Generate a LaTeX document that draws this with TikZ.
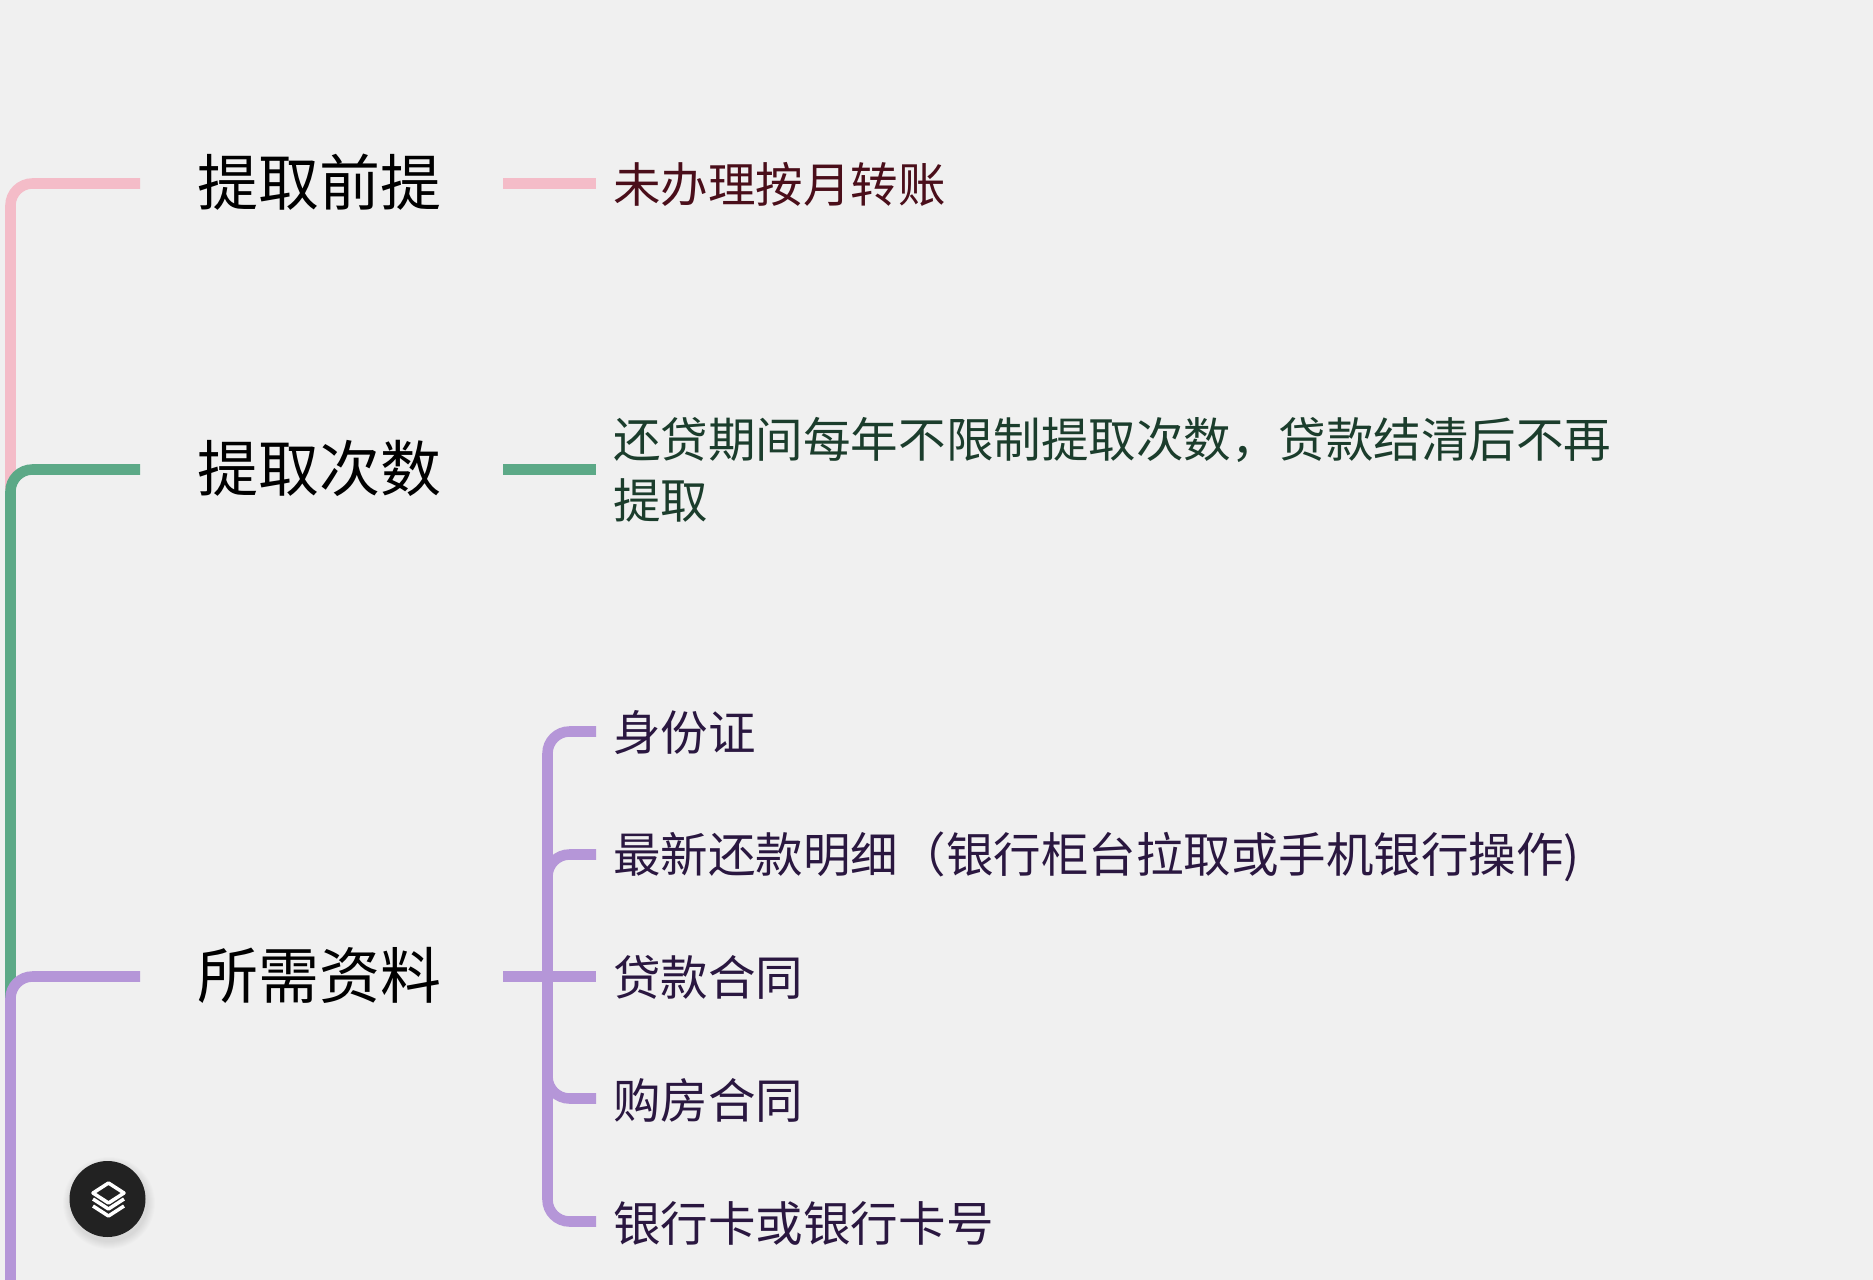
\documentclass[tikz,border=0pt]{standalone}
\usepackage{fontspec}
\setmainfont{Noto Sans CJK SC}
\definecolor{pagebg}{HTML}{F0F0F0}
\definecolor{branchpink}{HTML}{F4BCC8}
\definecolor{branchgreen}{HTML}{5CA987}
\definecolor{branchpurple}{HTML}{B596D8}
\definecolor{textpink}{HTML}{4A0E1A}
\definecolor{textgreen}{HTML}{1B3D2C}
\definecolor{textpurple}{HTML}{2A1740}
\definecolor{buttonblack}{HTML}{222222}
\tikzset{
  topic/.style={anchor=center,inner sep=0pt,text=black,font=\fontsize{34.7}{40}\selectfont},
  leaf/.style={anchor=west,inner sep=0pt,align=left,font=\fontsize{27.05}{34.6}\selectfont},
  branch/.style={line width=6pt,rounded corners=12.5pt},
  layer/.style={white,line width=2pt,line join=round},
}
\begin{document}
\begin{tikzpicture}[x=0.02cm,y=-0.02cm]
\useasboundingbox (0,0) rectangle (1873,1280);
\fill[pagebg] (0,0) rectangle (1873,1280);
\coordinate (pinkin) at (140,183.5);
\coordinate (greenin) at (140,469.5);
\coordinate (purplein) at (140,976.5);
\coordinate (pinkout) at (503,183.5);
\coordinate (greenout) at (503,469.5);
\coordinate (purpleout) at (503,976.5);
\coordinate (pinkleft) at (596,183.5);
\coordinate (greenleft) at (596,469.5);
\coordinate (idleft) at (596,731.5);
\coordinate (repayleft) at (596,854.5);
\coordinate (loanleft) at (596,976.5);
\coordinate (houseleft) at (596,1098.5);
\coordinate (cardleft) at (596,1221.5);
\node[topic] (premise) at (319.5,182) {提取前提};
\node[topic] (times) at (319.5,468) {提取次数};
\node[topic] (papers) at (319.5,975.5) {所需资料};
\node[leaf,text=textpink] (transfer) at (613,184) {未办理按月转账};
\node[leaf,text=textgreen] (limit) at (613,470) {还贷期间每年不限制提取次数，贷款结清后不再\\提取};
\node[leaf,text=textpurple] (idcard) at (613,732.5) {身份证};
\node[leaf,text=textpurple] (repay) at (613,857) {最新还款明细（银行柜台拉取或手机银行操作)};
\node[leaf,text=textpurple] (loan) at (613,977) {贷款合同};
\node[leaf,text=textpurple] (house) at (613,1100) {购房合同};
\node[leaf,text=textpurple] (card) at (613,1223) {银行卡或银行卡号};
% trunk
\draw[branch,branchpink] (pinkin) -- (10.5,183.5) -- (10.5,490);
\draw[branch,branchgreen] (greenin) -- (10.5,469.5) -- (10.5,1000);
\draw[branch,branchpurple] (purplein) -- (10.5,976.5) -- (10.5,1280);
\draw[branch,branchpink] (pinkout) -- (pinkleft);
\draw[branch,branchgreen] (greenout) -- (greenleft);
\draw[branch,branchpurple] (purpleout) -- (loanleft);
% bracket
\draw[branch,branchpurple] (idleft) -- (547.5,731.5) -- (547.5,976);
\draw[branch,branchpurple] (repayleft) -- (547.5,854.5) -- (547.5,976);
\draw[branch,branchpurple] (houseleft) -- (547.5,1098.5) -- (547.5,976);
\draw[branch,branchpurple] (cardleft) -- (547.5,1221.5) -- (547.5,976);
% button
\foreach \r in {39,40,41,42,43,44,45,46}
  \fill[black,opacity=.012] (109,1203) circle (\r);
\fill[buttonblack] (107.5,1199) circle (38);
\draw[layer] (108.5,1183) -- (124,1193) -- (108.5,1203) -- (93,1193) -- cycle;
\draw[layer] (93,1199) -- (108.5,1209) -- (124,1199);
\draw[layer] (93,1206) -- (108.5,1216) -- (124,1206);
\end{tikzpicture}
\end{document}
